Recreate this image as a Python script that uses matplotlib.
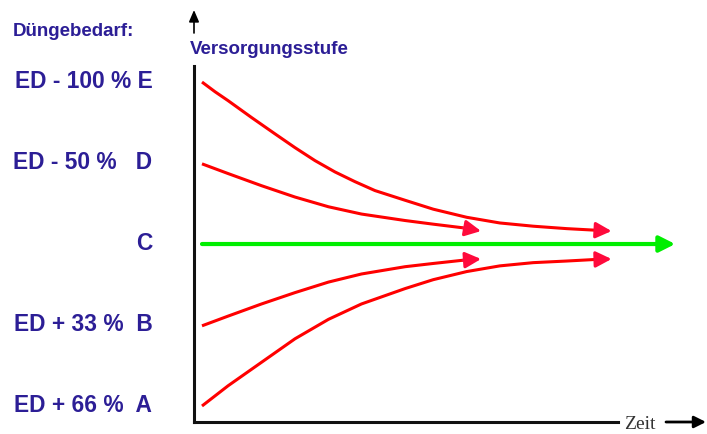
import matplotlib
matplotlib.use("Agg")
import matplotlib.pyplot as plt
from matplotlib.transforms import ScaledTranslation

# Versorgungsstufen (A..E) und Düngebedarf-Beschriftung
levels = [1, 2, 3, 4, 5]
level_labels = ["ED + 66 %  A", "ED + 33 %  B", "C", "ED - 50 %   D", "ED - 100 % E"]

# Kurven: Zeit (willkürliche Einheit) -> Versorgungsstufe
e_t = [0.0, 0.32, 0.64, 1.22, 1.79, 2.28, 2.77, 3.26, 3.75, 4.24, 4.98,
       5.67, 6.49, 7.30, 8.12, 8.94, 9.67, 10.04]
e_y = [5.00, 4.88, 4.77, 4.56, 4.36, 4.19, 4.03, 3.89, 3.77, 3.66, 3.54,
       3.43, 3.33, 3.26, 3.22, 3.19, 3.17, 3.16]

d_t = [0.0, 0.64, 1.46, 2.28, 3.10, 3.91, 4.98, 5.67, 6.40, 6.84]
d_y = [3.99, 3.87, 3.72, 3.58, 3.46, 3.37, 3.29, 3.245, 3.20, 3.16]

b_t = [0.0, 0.64, 1.46, 2.28, 3.10, 3.91, 4.98, 5.67, 6.40, 6.84]
b_y = [1.99, 2.11, 2.26, 2.40, 2.53, 2.63, 2.72, 2.76, 2.80, 2.815]

a_t = [0.0, 0.64, 1.46, 2.28, 3.10, 3.91, 4.98, 5.67, 6.49, 7.30, 8.12,
       8.94, 9.67, 10.04]
a_y = [1.00, 1.25, 1.54, 1.83, 2.07, 2.26, 2.45, 2.56, 2.66, 2.73, 2.77,
       2.79, 2.81, 2.815]

c_t = [0.0, 11.6]
c_y = [3.0, 3.0]

BLUE = "#2c1e96"
RED = "#ff0000"
HEAD_RED = "#ff0a3c"
GREEN = "#00ee00"

W, H = 707, 435
fig = plt.figure(figsize=(W / 100, H / 100), dpi=100)
ax = fig.add_axes([194 / W, 12 / H, (W - 194) / W, (423 - 67) / H])
ax.set_xlim(-0.196, 12.38)
ax.set_ylim(0.8025, 5.198)

for sp in ("top", "right"):
    ax.spines[sp].set_visible(False)
for sp in ("left", "bottom"):
    ax.spines[sp].set_linewidth(2.2)
    ax.spines[sp].set_color("#111111")
ax.spines["bottom"].set_bounds(-0.196, 10.2)

ax.set_xticks([])
ax.set_yticks(levels)
ax.set_yticklabels(level_labels, fontsize=16.4, fontweight="bold",
                   color=BLUE, family="Liberation Sans")
ax.tick_params(axis="y", length=0, pad=30)
shift_up = ScaledTranslation(0, 0.04, fig.dpi_scale_trans)
for lab in ax.get_yticklabels():
    lab.set_transform(lab.get_transform() + shift_up)


def curve(t, y, color, head_color, lw):
    ax.plot(t[:-1], y[:-1], color=color, lw=lw, solid_capstyle="butt",
            solid_joinstyle="round")
    ax.annotate("", xy=(t[-1], y[-1]), xytext=(t[-2], y[-2]),
                arrowprops=dict(arrowstyle="-|>,head_length=0.95,head_width=0.48",
                                mutation_scale=10, color=head_color, lw=lw,
                                shrinkA=0, shrinkB=0))


curve(e_t, e_y, RED, HEAD_RED, 2.2)
curve(d_t, d_y, RED, HEAD_RED, 2.2)
curve(b_t, b_y, RED, HEAD_RED, 2.2)
curve(a_t, a_y, RED, HEAD_RED, 2.2)
curve(c_t, c_y, GREEN, GREEN, 3.0)

# Achsenpfeile und Beschriftungen
fig.text(13 / W, 1 - 31 / H, "Düngebedarf:", fontsize=13.5, fontweight="bold",
         color=BLUE, family="Liberation Sans", va="center", ha="left")
fig.text(190 / W, 1 - 50 / H, "Versorgungsstufe", fontsize=13.5, fontweight="bold",
         color=BLUE, family="Liberation Sans", va="center", ha="left")
ax.annotate("", xy=(194, H - 11), xytext=(194, H - 34), xycoords="figure pixels",
            textcoords="figure pixels",
            arrowprops=dict(arrowstyle="-|>,head_length=0.7,head_width=0.3",
                            mutation_scale=10, color="black", lw=1.2,
                            shrinkA=0, shrinkB=0))
fig.text(640 / W, 10 / H, "Zeit", fontsize=14, color="#333333",
         family="Liberation Serif", va="center", ha="center")
ax.annotate("", xy=(706, 12), xytext=(666, 12), xycoords="figure pixels",
            textcoords="figure pixels",
            arrowprops=dict(arrowstyle="-|>,head_length=0.7,head_width=0.35",
                            mutation_scale=10, color="black", lw=2,
                            shrinkA=0, shrinkB=0))

fig.savefig("out.png", dpi=100)
